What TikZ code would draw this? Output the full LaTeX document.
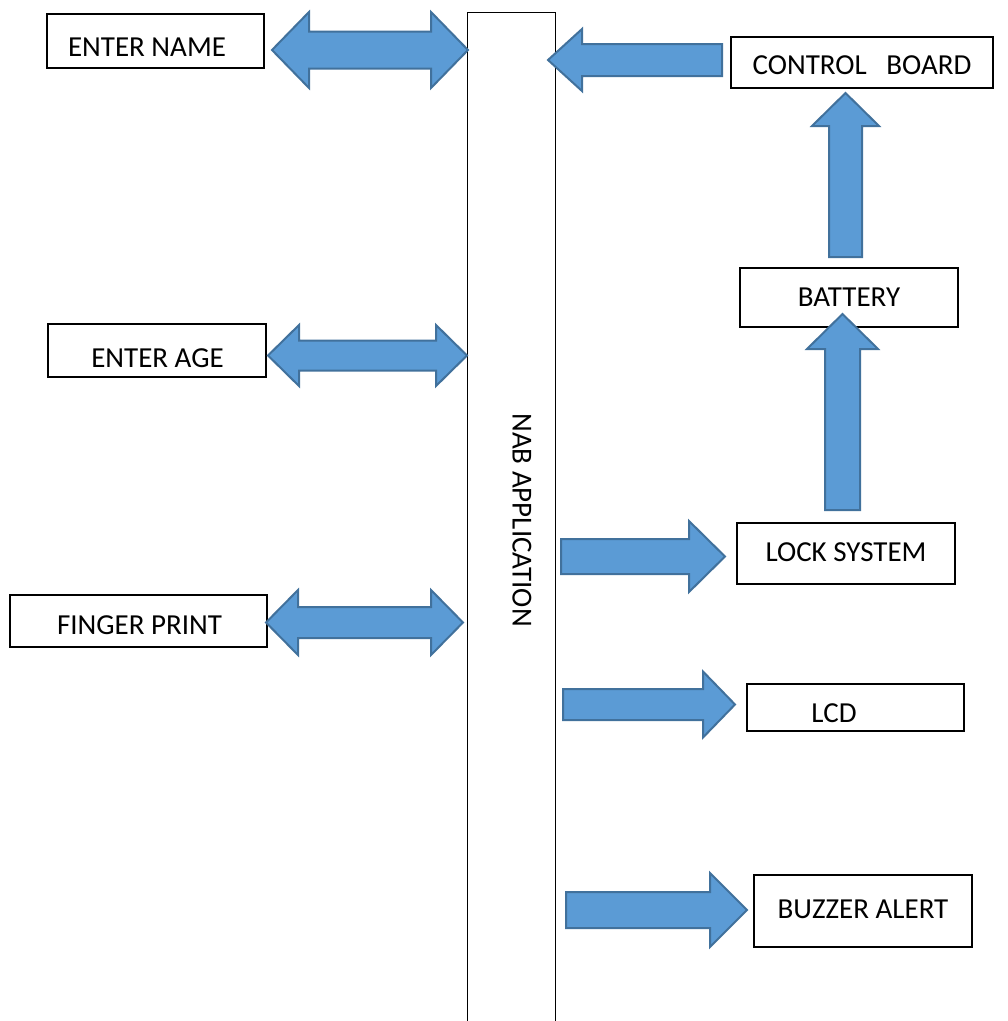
\documentclass[tikz,border=0pt]{standalone}
\usepackage{fontspec}
\setmainfont{Carlito}
\tikzset{
  box/.style={draw=black, line width=1.3pt, fill=white, inner sep=0pt},
  txt/.style={inner sep=0pt, font=\fontsize{29}{34}\selectfont},
  barrow/.style={fill={rgb,255:red,91;green,155;blue,213}, draw={rgb,255:red,65;green,113;blue,156}, line width=2pt, line join=miter}
}
% horizontal single arrow: tail, head base, tip, cy, shaft half, head half
\newcommand\arrH[6]{\draw[barrow] (#1,#4-#5) -- (#2,#4-#5) -- (#2,#4-#6) -- (#3,#4) -- (#2,#4+#6) -- (#2,#4+#5) -- (#1,#4+#5) -- cycle;}
% double arrow: left tip, left base, right base, right tip, cy, shaft half, head half
\newcommand\arrD[7]{\draw[barrow] (#1,#5) -- (#2,#5-#7) -- (#2,#5-#6) -- (#3,#5-#6) -- (#3,#5-#7) -- (#4,#5) -- (#3,#5+#7) -- (#3,#5+#6) -- (#2,#5+#6) -- (#2,#5+#7) -- cycle;}
% up arrow: cx, bottom, head base, tip, shaft half, head half
\newcommand\arrU[6]{\draw[barrow] (#1-#5,#2) -- (#1-#5,#3) -- (#1-#6,#3) -- (#1,#4) -- (#1+#6,#3) -- (#1+#5,#3) -- (#1+#5,#2) -- cycle;}
\begin{document}
\begin{tikzpicture}[x=1pt,y=-1pt]
\useasboundingbox[fill=white] (0,0) rectangle (1008,1021);
% central application bar
\node[box, anchor=north west, minimum width=88pt, minimum height=1030pt] (nab) at (467,12) {};
\node[txt, rotate=-90] (nabT) at (522,520) {NAB APPLICATION};
% boxes
\node[box, minimum width=217pt, minimum height=54pt] (nameB) at (155.5,41) {};
\node[txt] (nameT) at (147,47.5) {ENTER NAME};
\node[box, minimum width=262pt, minimum height=51pt] (ctrlB) at (862,62.5) {};
\node[txt] (ctrlT) at (862,65) {CONTROL\ \ \ BOARD};
\node[box, minimum width=218pt, minimum height=59pt] (batB) at (849,297.5) {};
\node[txt] (batT) at (849,297) {BATTERY};
\node[box, minimum width=218pt, minimum height=53pt] (ageB) at (157,350.5) {};
\node[txt] (ageT) at (157.5,358.5) {ENTER AGE};
\node[box, minimum width=218pt, minimum height=61pt] (lockB) at (846,553.5) {};
\node[txt] (lockT) at (846,552.5) {LOCK SYSTEM};
\node[box, minimum width=257pt, minimum height=52pt] (fingB) at (138.5,621) {};
\node[txt] (fingT) at (139.5,625.5) {FINGER PRINT};
\node[box, minimum width=217pt, minimum height=47pt] (lcdB) at (855.5,707.5) {};
\node[txt] (lcdT) at (834,713.5) {LCD};
\node[box, minimum width=218pt, minimum height=72pt] (buzB) at (863,911) {};
\node[txt] (buzT) at (863,909.5) {BUZZER ALERT};
% arrows
\arrD{272}{309}{431}{468}{50}{18.5}{38}
\arrD{268}{299}{436}{467}{355.5}{15}{30.5}
\arrD{266}{298}{431}{463}{622.5}{15.5}{32.5}
\arrH{722}{582}{548}{60}{16}{31}
\arrU{845.5}{257}{126}{93}{16.5}{33.5}
\arrU{842.5}{510}{349}{314}{17.5}{35.5}
\arrH{561}{689}{725}{556.5}{17.5}{35.5}
\arrH{563}{703}{735}{704.5}{15.5}{33}
\arrH{566}{710}{747}{910}{18}{37}
\end{tikzpicture}
\end{document}
